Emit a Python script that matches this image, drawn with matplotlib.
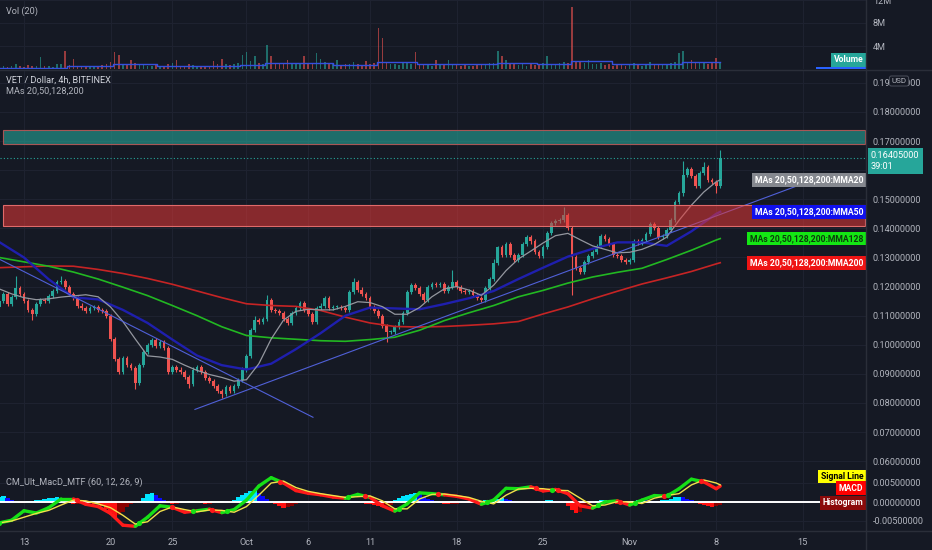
import numpy as np
import matplotlib
matplotlib.use('Agg')
import matplotlib.pyplot as plt
from matplotlib.patches import Rectangle
from matplotlib.collections import LineCollection
from matplotlib.lines import Line2D

# ---------------- data (x axis = days since 13 Sep 2021, 8h candles) ----------------
candle_start_day = -2.0
candle_step_day = 1.0 / 3.0
first_open = 0.1130
closes = [
    0.1150, 0.1175, 0.1140, 0.1165, 0.1195, 0.1175, 0.1150, 0.1120, 0.1105, 0.1140,
    0.1155, 0.1150, 0.1168, 0.1185, 0.1215, 0.1220, 0.1200, 0.1175, 0.1160, 0.1135,
    0.1125, 0.1115, 0.1125, 0.1130, 0.1120, 0.1115, 0.1100, 0.1020, 0.0950, 0.0905,
    0.0955, 0.0930, 0.0920, 0.0870, 0.0930, 0.0975, 0.1000, 0.1015, 0.0995, 0.1010,
    0.0990, 0.0905, 0.0925, 0.0915, 0.0905, 0.0890, 0.0865, 0.0915, 0.0925, 0.0905,
    0.0885, 0.0875, 0.0860, 0.0840, 0.0830, 0.0855, 0.0840, 0.0860, 0.0880, 0.0915,
    0.0960, 0.1050, 0.1085, 0.1080, 0.1090, 0.1155, 0.1120, 0.1115, 0.1110, 0.1090,
    0.1075, 0.1110, 0.1125, 0.1145, 0.1120, 0.1105, 0.1080, 0.1125, 0.1135, 0.1160,
    0.1125, 0.1130, 0.1130, 0.1125, 0.1120, 0.1180, 0.1215, 0.1190, 0.1175, 0.1160,
    0.1130, 0.1115, 0.1100, 0.1065, 0.1045, 0.1045, 0.1060, 0.1080, 0.1110, 0.1180,
    0.1205, 0.1195, 0.1175, 0.1155, 0.1200, 0.1210, 0.1205, 0.1210, 0.1185, 0.1200,
    0.1215, 0.1200, 0.1185, 0.1180, 0.1185, 0.1170, 0.1160, 0.1155, 0.1195, 0.1225,
    0.1280, 0.1335, 0.1310, 0.1345, 0.1310, 0.1290, 0.1310, 0.1345, 0.1370, 0.1355,
    0.1320, 0.1305, 0.1335, 0.1385, 0.1420, 0.1425, 0.1430, 0.1445, 0.1400, 0.1300,
    0.1265, 0.1250, 0.1285, 0.1305, 0.1320, 0.1340, 0.1375, 0.1365, 0.1345, 0.1310,
    0.1305, 0.1290, 0.1285, 0.1290, 0.1355, 0.1350, 0.1360, 0.1380, 0.1415, 0.1400,
    0.1370, 0.1375, 0.1395, 0.1430, 0.1490, 0.1520, 0.1585, 0.1605, 0.1580, 0.1545,
    0.1590, 0.1610, 0.1565, 0.1560, 0.1545, 0.16405,
]
wick_highs = {4: 0.1235, 15: 0.1238, 62: 0.1100, 65: 0.1172, 86: 0.1228, 110: 0.1258,
              120: 0.1295, 121: 0.1340, 137: 0.1475, 166: 0.1632, 171: 0.1628, 175: 0.1670}
wick_lows = {8: 0.1085, 33: 0.0847, 46: 0.0852, 54: 0.0818, 94: 0.1008, 139: 0.1170, 174: 0.1522}

volumes_m = [
    0.3, 0.5, 0.4, 0.6, 0.9, 0.5, 0.4, 0.7, 0.6, 0.5,
    2.1, 0.5, 0.6, 0.4, 0.8, 0.9, 3.1, 0.7, 1.8, 0.6,
    0.5, 0.4, 0.6, 0.5, 0.4, 0.7, 0.9, 1.2, 2.9, 2.4,
    0.8, 0.7, 1.5, 1.0, 0.9, 0.8, 0.6, 0.5, 0.7, 0.6,
    0.5, 0.8, 1.0, 1.6, 0.6, 0.5, 0.9, 0.7, 0.5, 0.6,
    0.4, 0.5, 1.4, 0.8, 1.8, 0.9, 0.7, 0.8, 1.0, 2.4,
    2.9, 1.4, 2.2, 1.0, 0.9, 4.1, 2.2, 1.0, 0.9, 1.1,
    1.6, 0.9, 1.0, 1.1, 2.2, 1.0, 0.9, 2.7, 1.8, 1.2,
    0.9, 0.8, 1.5, 0.7, 0.8, 0.9, 1.2, 0.8, 0.7, 1.4,
    0.8, 1.0, 7.1, 5.4, 1.1, 0.9, 0.8, 0.7, 1.0, 1.2,
    0.9, 3.0, 0.8, 0.7, 0.9, 0.6, 1.5, 0.8, 0.9, 1.5,
    0.7, 0.8, 0.6, 0.7, 0.5, 0.6, 0.7, 0.8, 0.9, 1.0,
    1.1, 3.2, 2.2, 1.5, 0.9, 0.8, 0.7, 0.8, 0.6, 0.9,
    0.7, 0.8, 1.0, 2.2, 0.9, 0.8, 1.0, 1.2, 1.1, 10.8,
    1.4, 1.2, 1.1, 1.5, 0.9, 0.8, 1.0, 0.7, 0.8, 0.6,
    0.9, 0.7, 0.6, 0.8, 1.1, 0.7, 0.6, 0.8, 1.2, 0.7,
    0.8, 0.9, 0.7, 1.0, 1.2, 2.7, 3.2, 1.2, 1.6, 1.1,
    1.0, 1.2, 0.9, 1.0, 2.0, 1.0,
]
vol_ma_days = [-1.94, 3.48, 7.2, 10.76, 17.48, 19.5, 22.9, 25.0, 28.56, 31.8, 38.27, 41.5, 44.26, 47.57, 53.24, 56.31]
vol_ma_m = [0.25, 0.5, 0.8, 0.5, 0.75, 1.0, 1.1, 0.75, 1.25, 0.8, 1.0, 0.8, 1.4, 0.8, 1.25, 1.25]

ma_days_2 = list(range(-2, 57, 2)) + [56.33]
ma50 = [0.1353, 0.1300, 0.1225, 0.1163, 0.1156, 0.1120, 0.1075, 0.1018, 0.0963, 0.0930,
        0.0915, 0.0935, 0.0985, 0.1040, 0.1100, 0.1128, 0.1125, 0.1122, 0.1140, 0.1160,
        0.1185, 0.1226, 0.1265, 0.1303, 0.1330, 0.1352, 0.1352, 0.1340, 0.1390, 0.1450, 0.1457]
ma128 = [0.1300, 0.1285, 0.1270, 0.1250, 0.1226, 0.1198, 0.1169, 0.1135, 0.1100, 0.1062,
         0.1032, 0.1024, 0.1019, 0.1014, 0.1012, 0.1018, 0.1026, 0.1050, 0.1083, 0.1110,
         0.1135, 0.1165, 0.1187, 0.1212, 0.1233, 0.1249, 0.1263, 0.1293, 0.1325, 0.1360, 0.1365]
ma200 = [0.1265, 0.1268, 0.1271, 0.1270, 0.1259, 0.1245, 0.1228, 0.1208, 0.1185, 0.1162,
         0.1141, 0.1135, 0.1132, 0.1118, 0.1095, 0.1075, 0.1063, 0.1061, 0.1063, 0.1067,
         0.1072, 0.1080, 0.1106, 0.1130, 0.1158, 0.1184, 0.1209, 0.1230, 0.1252, 0.1278, 0.1282]
ma_days_1 = list(range(-2, 57)) + [56.33]
ma20 = [0.1192, 0.1175, 0.1162, 0.1155, 0.1158, 0.1164, 0.1168, 0.1172, 0.1165, 0.1130,
        0.1080, 0.1020, 0.0962, 0.0958, 0.0950, 0.0930, 0.0912, 0.0898, 0.0888, 0.0875,
        0.0880, 0.0935, 0.1020, 0.1085, 0.1115, 0.1122, 0.1120, 0.1120, 0.1132, 0.1148,
        0.1145, 0.1131, 0.1105, 0.1105, 0.1128, 0.1165, 0.1192, 0.1200, 0.1188, 0.1170,
        0.1205, 0.1255, 0.1295, 0.1322, 0.1350, 0.1375, 0.1383, 0.1361, 0.1340, 0.1328,
        0.1316, 0.1318, 0.1328, 0.1345, 0.1370, 0.1428, 0.1480, 0.1525, 0.1560, 0.1567]

trend_down_days = [-1.94, 23.38]
trend_down_prices = [0.1293, 0.0751]
trend_up_days = [13.83, 62.8]
trend_up_prices = [0.0778, 0.1550]
zone_start_day = -1.70
resistance_zone = (0.16903, 0.17383)
support_zone = (0.14091, 0.14811)

macd_days = list(range(-2, 57)) + [56.33]
macd = [-0.0055, -0.0048, -0.0023, -0.0029, -0.0015, 0.0008, 0.0008, -0.0006, -0.0012, -0.0030,
        -0.0061, -0.0064, -0.0040, -0.0010, -0.0014, -0.0027, -0.0023, -0.0019, -0.0028, -0.0020,
        0.0005, 0.0042, 0.0064, 0.0050, 0.0030, 0.0023, 0.0019, 0.0013, 0.0010, 0.0020,
        0.0012, -0.0010, -0.0024, -0.0005, 0.0024, 0.0022, 0.0019, 0.0015, 0.0008, -0.0006,
        0.0005, 0.0036, 0.0035, 0.0040, 0.0029, 0.0033, 0.0022, -0.0010, -0.0016, 0.0000,
        0.0003, -0.0008, 0.0005, 0.0017, 0.0015, 0.0035, 0.0060, 0.0053, 0.0035, 0.0042]
signal = [-0.0055, -0.0050, -0.0040, -0.0030, -0.0022, -0.0008, 0.0005, 0.0003, -0.0005, -0.0015,
          -0.0035, -0.0058, -0.0052, -0.0025, -0.0013, -0.0020, -0.0026, -0.0021, -0.0022, -0.0027,
          -0.0012, 0.0018, 0.0050, 0.0055, 0.0038, 0.0028, 0.0022, 0.0017, 0.0012, 0.0014,
          0.0016, 0.0003, -0.0018, -0.0018, 0.0008, 0.0020, 0.0021, 0.0017, 0.0012, 0.0002,
          -0.0005, 0.0018, 0.0034, 0.0036, 0.0035, 0.0031, 0.0030, 0.0010, -0.0010, -0.0008,
          0.0001, 0.0000, -0.0004, 0.0010, 0.0017, 0.0022, 0.0045, 0.0058, 0.0050, 0.0045]
hist_e4 = [
    12, 15, 10, 5, 0, -2, -3, 2, 3, 4,
    5, 8, 10, 10, 12, 10, 6, -3, -6, -5,
    -3, -2, -3, -4, -6, -10, -18, -30, -40, -35,
    -25, -12, -6, -2, 2, 10, 20, 24, 18, 10,
    4, -3, -6, -5, -3, -2, 2, 3, 1, -3,
    -5, -4, -2, 1, 3, 2, 0, 6, 12, 18,
    24, 28, 32, 25, 15, 8, 2, -4, -10, -15,
    -14, -10, -6, -3, -2, -2, -1, 1, -1, -2,
    -3, -2, -3, -2, 2, 3, 2, -1, -3, -4,
    -6, -8, -10, -12, -10, -8, 5, 10, 15, 19,
    22, 24, 20, 14, 9, 5, 2, -3, -5, -6,
    -5, -4, -3, -2, -1, 0, 2, 3, 5, 4,
    6, 8, 10, 8, 5, 2, 0, -1, -2, -1,
    1, 2, 3, 4, 4, 3, 2, 0, -10, -20,
    -30, -25, -15, -8, -3, 2, 5, 6, 3, -2,
    -4, -5, -3, -1, 3, 5, 6, 5, 3, 2,
    3, 4, 6, 8, 12, 14, 12, 8, 4, -2,
    -5, -8, -10, -12, -10, -8,
]

price_ticks = [0.06, 0.07, 0.08, 0.09, 0.10, 0.11, 0.12, 0.13, 0.14, 0.15, 0.16, 0.17, 0.18, 0.19]
time_tick_days = [0, 7, 12, 18, 23, 28, 35, 42, 49, 56, 63]
time_tick_labels = ['13', '20', '25', 'Oct', '6', '11', '18', '25', 'Nov', '8', '15']
countdown = '39:01'

# ---------------- style ----------------
W, H = 932, 550
BG = '#151924'
GRID = '#1e2230'
TXT = '#b2b5be'
UP = '#26a69a'
DN = '#ef5350'
PLOT_R = 866            # px right edge of plot area
PX_DAY = 12.36
X0 = 24.0               # px of day 0
plt.rcParams['font.family'] = ['Roboto', 'DejaVu Sans']
plt.rcParams['axes.unicode_minus'] = False

fig = plt.figure(figsize=(W / 100, H / 100), dpi=100, facecolor=BG)


def pane(top, bottom):
    a = fig.add_axes([0, 1 - bottom / H, PLOT_R / W, (bottom - top) / H])
    a.set_facecolor(BG)
    for s in a.spines.values():
        s.set_visible(False)
    a.set_xlim(-X0 / PX_DAY, (PLOT_R - X0) / PX_DAY)
    a.set_xticks(time_tick_days)
    a.grid(True, color=GRID, lw=0.8)
    a.set_axisbelow(True)
    a.yaxis.tick_right()
    a.tick_params(axis='both', length=0, colors=TXT, labelsize=6.6)
    a.tick_params(axis='x', labelbottom=False)
    a.tick_params(axis='y', pad=5)
    return a


ax_v = pane(0, 69)
ax = pane(70, 472)
ax_m = pane(472, 530)

# ---------------- candles ----------------
n = len(closes)
c = np.array(closes)
t = candle_start_day + np.arange(n) * candle_step_day
o = np.r_[first_open, c[:-1]]
hi = np.maximum(o, c) + 0.0007
lo = np.minimum(o, c) - 0.0007
for k, v in wick_highs.items():
    hi[k] = v
for k, v in wick_lows.items():
    lo[k] = v
cols = np.where(c >= o, UP, DN)
ax.vlines(t, lo, hi, colors=cols, lw=0.8, zorder=3)
body = np.where(np.abs(c - o) < 0.0002, 0.0002, c - o)
ax.bar(t, body, bottom=o, width=0.22, color=cols, lw=0, zorder=3)

# moving averages
ax.plot(ma_days_2, ma200, color='#c62424', lw=1.2, zorder=4)
ax.plot(ma_days_2, ma128, color='#22b822', lw=1.2, zorder=4)
ax.plot(ma_days_2, ma50, color='#1f1fae', lw=1.7, zorder=4)
ax.plot(ma_days_1, ma20, color='#94979f', lw=0.9, zorder=4)
# trend lines
ax.plot(trend_down_days, trend_down_prices, color='#5060d8', lw=0.8, zorder=5)
ax.plot(trend_up_days, trend_up_prices, color='#5060d8', lw=0.8, zorder=5)

# zones
xmin, xmax = ax.get_xlim()
ax.add_patch(Rectangle((zone_start_day, resistance_zone[0]), xmax - zone_start_day - 0.06,
                       resistance_zone[1] - resistance_zone[0], fc=(0.15, 0.65, 0.60, 0.6),
                       ec='#a85656', lw=0.8, zorder=6))
ax.add_patch(Rectangle((zone_start_day, support_zone[0]), xmax - zone_start_day - 0.06,
                       support_zone[1] - support_zone[0], fc=(0.90, 0.22, 0.21, 0.55),
                       ec='#e06a6a', lw=0.8, zorder=6))
ax.axhline(c[-1], color=UP, ls=(0, (1, 2)), lw=0.8, zorder=2)

ax.set_ylim(0.18 - 360 / 2910, 0.18 + 42 / 2910)
ax.set_yticks(price_ticks)
ax.set_yticklabels(['' if abs(v - 0.16) < 1e-9 else f'{v:.8f}' for v in price_ticks])


def tag(a, yval, text, fc, tc, dy=0, clip=False):
    return a.annotate(text, xy=(1, yval), xycoords=('axes fraction', 'data'), xytext=(-2, dy),
                      textcoords='offset points', ha='right', va='center', fontsize=6.2,
                      fontweight='bold', color=tc, zorder=10, annotation_clip=False,
                      clip_on=clip, bbox=dict(boxstyle='square,pad=0.28', fc=fc, ec='none'))


tag(ax, ma20[-1], 'MAs 20,50,128,200:MMA20', '#85888f', 'white')
tag(ax, ma50[-1], 'MAs 20,50,128,200:MMA50', '#1010ee', 'white')
tag(ax, ma128[-1], 'MAs 20,50,128,200:MMA128', '#14e614', '#0c3d0c')
tag(ax, ma200[-1], 'MAs 20,50,128,200:MMA200', '#ee1414', 'white')

ax.annotate(f'{c[-1]:.8f}\n{countdown}', xy=(1, c[-1]), xycoords=('axes fraction', 'data'),
            xytext=(3.5, 5), textcoords='offset points', ha='left', va='top', fontsize=6.6,
            color='white', linespacing=1.15, annotation_clip=False, zorder=10,
            bbox=dict(boxstyle='square,pad=0.35', fc=UP, ec='none'))

# ---------------- volume ----------------
v = np.array(volumes_m) * 1e6
ax_v.bar(t, v, width=0.13, color=cols, alpha=0.6, lw=0)
ax_v.plot(vol_ma_days, np.array(vol_ma_m) * 1e6, drawstyle='steps-post', color='#3550e0', lw=1.0)
ax_v.set_ylim(0, 12.0e6)
ax_v.set_yticks([4e6, 8e6, 12e6])
ax_v.set_yticklabels(['4M', '8M', '12M'])
tag(ax_v, vol_ma_m[-1] * 1e6, 'Volume', UP, 'white', dy=1.5)
tag(ax_v, 0.0, 'Volume MA', '#2962ff', 'white', dy=-3.5, clip=True)

# ---------------- MACD ----------------
h = np.array(hist_e4) * 1e-4
prev = np.r_[h[0], h[:-1]]
hcols = np.where(h >= 0, np.where(h >= prev, '#00e5ff', '#0a0aff'),
                 np.where(h <= prev, '#ff1010', '#8b0000'))
ax_m.bar(t, h, width=0.34, color=hcols, lw=0, zorder=2)
ax_m.axhline(0, color='white', lw=1.4, zorder=3)
md = np.array(macd_days, float)
mv = np.array(macd)
sv = np.array(signal)
ax_m.plot(md, sv, color='#f2e14a', lw=1.0, zorder=5)
pts = np.column_stack([md, mv])
segs = np.stack([pts[:-1], pts[1:]], axis=1)
mid_up = (mv[:-1] + mv[1:]) >= (sv[:-1] + sv[1:])
lc = LineCollection(segs, colors=np.where(mid_up, '#16e016', '#ff1a1a'), lw=2.4,
                    capstyle='round', zorder=4)
ax_m.add_collection(lc)
diff = mv - sv
for i in range(len(diff) - 1):
    if diff[i] == 0 or np.sign(diff[i]) != np.sign(diff[i + 1]) and diff[i + 1] != 0:
        if diff[i] == diff[i + 1]:
            continue
        f = diff[i] / (diff[i] - diff[i + 1])
        xc = md[i] + f * (md[i + 1] - md[i])
        yc = mv[i] + f * (mv[i + 1] - mv[i])
        ax_m.scatter([xc], [yc], s=14, color='#16e016' if diff[i + 1] > 0 else '#ff1a1a',
                     zorder=6, lw=0)
ax_m.set_ylim(-28 / 3800, 30 / 3800)
ax_m.set_yticks([-0.005, 0, 0.005])
ax_m.set_yticklabels(['-0.00500000', '0.00000000', '0.00500000'])
ax_m.set_xticklabels(time_tick_labels)
ax_m.tick_params(axis='x', labelbottom=True, pad=6, labelsize=6.6)
tag(ax_m, sv[-1], 'Signal Line', '#ffff00', 'black', dy=6)
tag(ax_m, mv[-1], 'MACD', '#ff0000', 'white', dy=-1.5)
tag(ax_m, h[-1], 'Histogram', '#8b0a0a', 'white', dy=1.5)

# ---------------- texts & separators ----------------
fig.text(6 / W, 1 - 11 / H, 'Vol (20)', color=TXT, fontsize=6.6, va='center')
fig.text(6 / W, 1 - 80 / H, 'VET / Dollar, 4h, BITFINEX', color='#d1d4dc', fontsize=6.6, va='center')
fig.text(6 / W, 1 - 91 / H, 'MAs 20,50,128,200', color=TXT, fontsize=6.6, va='center')
fig.text(6 / W, 1 - 482 / H, 'CM_Ult_MacD_MTF (60, 12, 26, 9)', color=TXT, fontsize=6.6, va='center')
fig.text(899 / W, 1 - 81 / H, 'USD', color=TXT, fontsize=5.8, ha='center', va='center',
         bbox=dict(boxstyle='round,pad=0.25', fc=BG, ec='#4a4e5a', lw=0.7))
for ln in [Line2D([PLOT_R / W] * 2, [0, 1]), Line2D([0, 1], [1 - 69.5 / H] * 2),
           Line2D([0, 1], [1 - 530.5 / H] * 2)]:
    ln.set_transform(fig.transFigure)
    ln.set_color('#2a2e39')
    ln.set_linewidth(1.0)
    fig.add_artist(ln)

fig.savefig('out.png', dpi=100, facecolor=BG)
